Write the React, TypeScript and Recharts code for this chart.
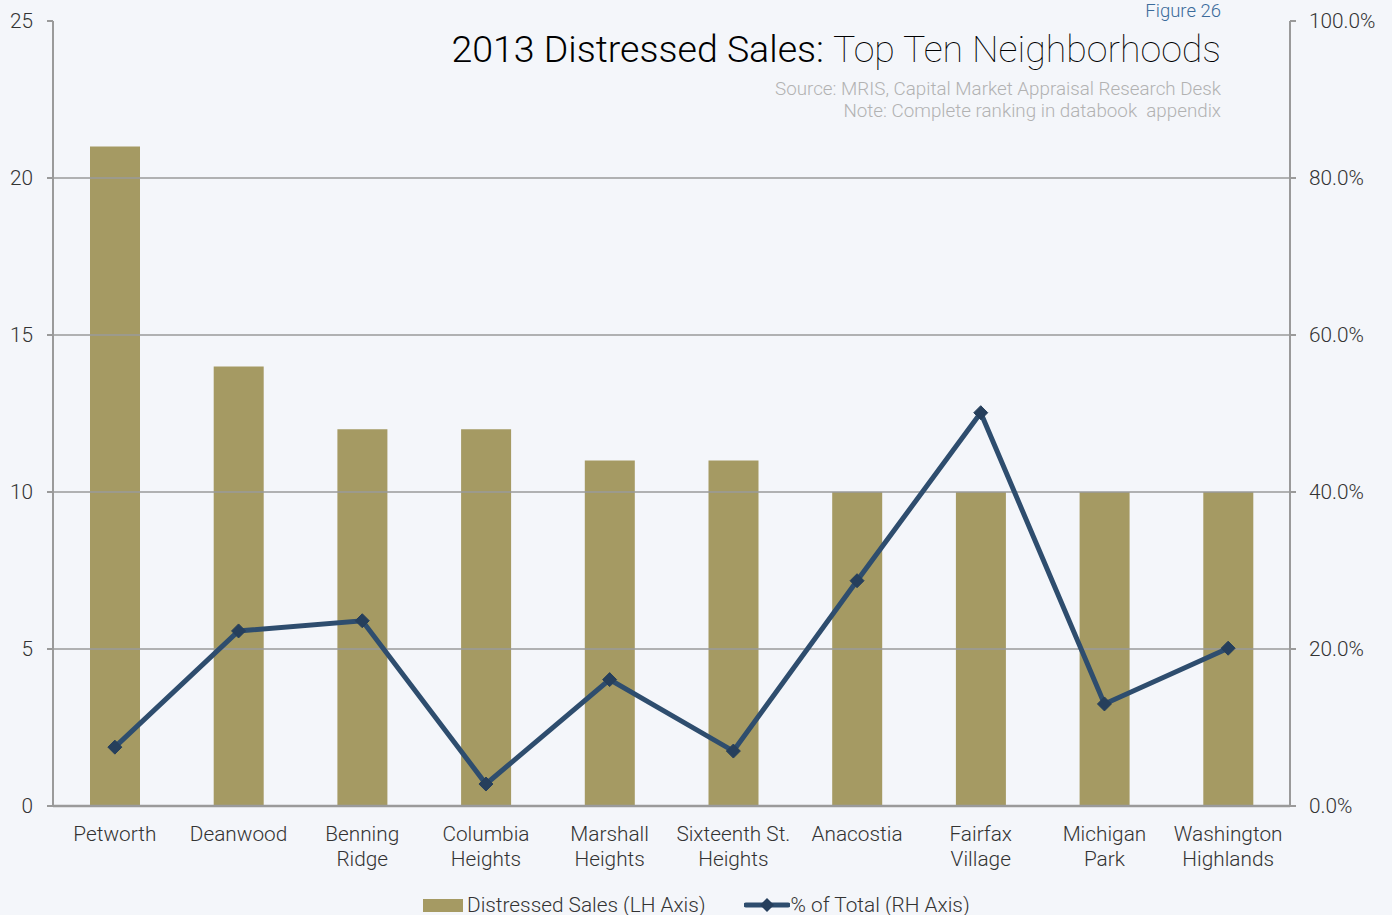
import { ComposedChart, Bar, Line, XAxis, YAxis, ReferenceLine } from 'recharts';

const neighborhoods = [
  'Petworth', 'Deanwood', 'Benning\nRidge', 'Columbia\nHeights', 'Marshall\nHeights',
  'Sixteenth St.\nHeights', 'Anacostia', 'Fairfax\nVillage', 'Michigan\nPark', 'Washington\nHighlands',
];
const distressedSales = [21, 14, 12, 12, 11, 11, 10, 10, 10, 10];
const pctOfTotal = [7.5, 22.3, 23.6, 2.8, 16.1, 7.0, 28.7, 50.1, 13.0, 20.1];
const leftTicks = [0, 5, 10, 15, 20, 25];
const rightTicks = [0, 20, 40, 60, 80, 100];
const gridValues = [5, 10, 15, 20];
const boundaryTicks = [0, 1, 2, 3, 4, 5, 6, 7, 8, 9, 10];

const data = neighborhoods.map((name, i) => ({
  name,
  sales: distressedSales[i],
  pct: pctOfTotal[i],
}));

const BAR = '#a59a63';
const LINE = '#2e4d6e';
const AXIS = '#9a9a9a';
const TEXT = '#333';
const FONT = 'Roboto, "Open Sans", sans-serif';

const CategoryTick = ({ x, y, payload }: any) => {
  const lines = String(payload.value).split('\n');
  return (
    <text x={x} y={y} textAnchor="middle" fill={TEXT} fontSize={20.8} fontFamily={FONT} fontWeight={300}>
      {lines.map((l, i) => (
        <tspan key={i} x={x} dy={i === 0 ? 27 : 25}>{l}</tspan>
      ))}
    </text>
  );
};

const Diamond = ({ cx, cy }: any) => {
  if (cx == null || cy == null) return null;
  const r = 7;
  return (
    <path d={`M${cx},${cy - r} L${cx + r},${cy} L${cx},${cy + r} L${cx - r},${cy} Z`} fill="#263f5c" stroke="#263f5c" />
  );
};

export default function App() {
  return (
    <div style={{ position: 'absolute', left: 0, top: 0, width: 1392, height: 915, background: '#f4f6fa', fontFamily: FONT, overflow: 'hidden' }}>
      <div style={{ position: 'absolute', right: 171, top: 0, textAlign: 'right', whiteSpace: 'nowrap' }}>
        <div style={{ color: '#3b6b9b', fontSize: 18.5, fontWeight: 300, lineHeight: '22px' }}>Figure 26</div>
        <div style={{ color: '#000', fontSize: 37.5, lineHeight: '52px', marginTop: 1 }}>
          <span style={{ fontWeight: 300 }}>2013 Distressed Sales: </span>
          <span style={{ fontWeight: 100 }}>Top Ten Neighborhoods</span>
        </div>
        <div style={{ color: '#b2b2b2', fontSize: 18.8, fontWeight: 300, lineHeight: '22px', marginTop: 3 }}>
          Source: MRIS, Capital Market Appraisal Research Desk
        </div>
        <div style={{ color: '#b2b2b2', fontSize: 18.8, fontWeight: 300, lineHeight: '22px' }}>
          Note: Complete ranking in databook&nbsp; appendix
        </div>
      </div>

      <ComposedChart
        width={1392}
        height={915}
        data={data}
        margin={{ top: 21, right: 0, bottom: 29, left: 0 }}
        barCategoryGap={37}
        style={{ position: 'absolute', left: 0, top: 0 }}
      >
        <XAxis
          xAxisId="bounds"
          type="number"
          domain={[0, 10]}
          ticks={boundaryTicks}
          height={0}
          tickSize={6}
          tickFormatter={() => ''}
          axisLine={false}
          stroke={AXIS}
          tickLine={{ stroke: AXIS, strokeWidth: 2 }}
        />
        <XAxis
          dataKey="name"
          height={80}
          interval={0}
          axisLine={false}
          tickLine={false}
          tick={<CategoryTick />}
        />
        <YAxis
          yAxisId="left"
          domain={[0, 25]}
          ticks={leftTicks}
          width={53}
          tickSize={6}
          tickMargin={14}
          axisLine={{ stroke: AXIS, strokeWidth: 2 }}
          tickLine={{ stroke: AXIS, strokeWidth: 2 }}
          tick={{ fill: TEXT, fontSize: 20.8, fontFamily: FONT, fontWeight: 300 }}
        />
        <YAxis
          yAxisId="right"
          orientation="right"
          domain={[0, 100]}
          ticks={rightTicks}
          width={102}
          tickSize={6}
          tickMargin={13}
          tickFormatter={(v: number) => `${v.toFixed(1)}%`}
          axisLine={{ stroke: AXIS, strokeWidth: 2 }}
          tickLine={{ stroke: AXIS, strokeWidth: 2 }}
          tick={{ fill: TEXT, fontSize: 20.8, fontFamily: FONT, fontWeight: 300, textAnchor: 'start' }}
        />
        {gridValues.map(v => (
          <ReferenceLine key={v} yAxisId="left" y={v} stroke={AXIS} strokeWidth={1.5} />
        ))}
        <ReferenceLine yAxisId="left" y={0} stroke={AXIS} strokeWidth={2.5} />
        <Bar yAxisId="left" dataKey="sales" fill={BAR} isAnimationActive={false} />
        <Line
          yAxisId="right"
          dataKey="pct"
          type="linear"
          stroke={LINE}
          strokeWidth={5}
          dot={<Diamond />}
          activeDot={false}
          isAnimationActive={false}
        />
      </ComposedChart>

      <div style={{ position: 'absolute', left: 423, top: 893, display: 'flex', alignItems: 'center', fontSize: 20.8, fontWeight: 300, color: TEXT, whiteSpace: 'nowrap', lineHeight: '24px' }}>
        <span style={{ display: 'inline-block', width: 40, height: 13, background: BAR, marginRight: 4 }} />
        <span>Distressed Sales (LH Axis)</span>
        <svg width={46} height={16} style={{ marginLeft: 38, marginRight: 1 }}>
          <line x1={2} y1={8} x2={44} y2={8} stroke={LINE} strokeWidth={5} strokeLinecap="round" />
          <path d="M23,1 L30,8 L23,15 L16,8 Z" fill="#263f5c" />
        </svg>
        <span>% of Total (RH Axis)</span>
      </div>
    </div>
  );
}
